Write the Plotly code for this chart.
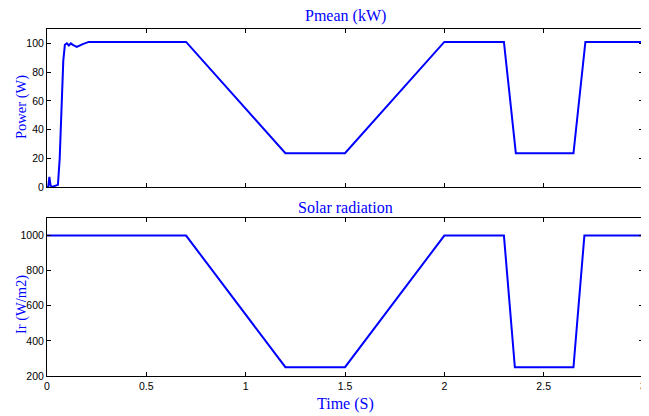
import plotly.graph_objects as go

# ---- data ----
power_time = [0, 0.006, 0.012, 0.018, 0.024, 0.04, 0.055, 0.064, 0.073, 0.082, 0.09,
              0.1, 0.11, 0.12, 0.13, 0.15, 0.18, 0.21, 0.7, 1.2, 1.5, 2.0,
              2.3, 2.36, 2.65, 2.71, 3.0]
power_vals = [0, 0, 7, 1, 0, 0.5, 1.5, 20, 60, 88, 99,
              100, 98.5, 100, 99, 97.5, 99.5, 101, 101, 23.5, 23.5, 101,
              101, 23.5, 23.5, 101, 101]

irr_time = [0, 0.7, 1.2, 1.5, 2.0, 2.3, 2.355, 2.65, 2.705, 3.0]
irr_vals = [1000, 1000, 250, 250, 1000, 1000, 250, 250, 1000, 1000]

x_ticks = [0, 0.5, 1, 1.5, 2, 2.5, 3]
x_tick_labels = ["0", "0.5", "1", "1.5", "2", "2.5", "3"]
p_ticks = [0, 20, 40, 60, 80, 100]
ir_ticks = [200, 400, 600, 800, 1000]

titles = ["Pmean (kW)", "Solar radiation"]
y_titles = ["Power (W)", "Ir (W/m2)"]
x_title = "Time (S)"

# page body has an 8px default margin; size the figure so it fills the window
OFF = 8
WIN_W, WIN_H = 649, 416
W, H = WIN_W - OFF, WIN_H - OFF
L, R = 47 - OFF, WIN_W - 643
BLUE = "#0000ff"
serif = "Liberation Serif, Times New Roman, serif"
sans = "Liberation Sans, Arial, sans-serif"


def py(y_win):
    return 1 - (y_win - OFF) / H


def px(x_win):
    return (x_win - OFF - L) / (W - L - R)


fig = go.Figure()
fig.add_trace(go.Scatter(x=power_time, y=power_vals, mode="lines",
                         line=dict(color=BLUE, width=2), xaxis="x", yaxis="y",
                         showlegend=False))
fig.add_trace(go.Scatter(x=irr_time, y=irr_vals, mode="lines",
                         line=dict(color=BLUE, width=2), xaxis="x2", yaxis="y2",
                         showlegend=False))

top_dom = [py(187), py(29)]
bot_dom = [py(376), py(218)]

common_axis = dict(showline=True, linecolor="black", linewidth=1, mirror="ticks",
                   ticks="inside", ticklen=4, tickcolor="black", showgrid=False,
                   zeroline=False, automargin=False,
                   tickfont=dict(family=sans, size=10.5, color="black"))

fig.update_layout(
    width=W, height=H,
    margin=dict(l=L, r=R, t=0, b=0, autoexpand=False),
    paper_bgcolor="white", plot_bgcolor="white",
    xaxis=dict(domain=[0, 1], range=[0, 3], anchor="y", tickvals=x_ticks,
               showticklabels=False, **common_axis),
    yaxis=dict(domain=top_dom, range=[0, 110], anchor="x", tickvals=p_ticks, **common_axis),
    xaxis2=dict(domain=[0, 1], range=[0, 3], anchor="y2", tickvals=x_ticks,
                ticktext=x_tick_labels, **common_axis),
    yaxis2=dict(domain=bot_dom, range=[200, 1100], anchor="x2", tickvals=ir_ticks, **common_axis),
)

ann_font = dict(family=serif, size=16, color=BLUE)
ytitle_font = dict(family=serif, size=14.5, color=BLUE)
fig.add_annotation(text=titles[0], xref="paper", yref="paper", x=0.5, y=py(16),
                   showarrow=False, font=ann_font, xanchor="center", yanchor="middle")
fig.add_annotation(text=titles[1], xref="paper", yref="paper", x=0.5, y=py(207),
                   showarrow=False, font=ann_font, xanchor="center", yanchor="middle")
fig.add_annotation(text=x_title, xref="paper", yref="paper", x=0.5, y=py(404),
                   showarrow=False, font=ann_font, xanchor="center", yanchor="middle")
fig.add_annotation(text=y_titles[0], xref="paper", yref="paper", x=px(21),
                   y=py(107), showarrow=False, font=ytitle_font, textangle=-90,
                   xanchor="center", yanchor="middle")
fig.add_annotation(text=y_titles[1], xref="paper", yref="paper", x=px(21),
                   y=py(305), showarrow=False, font=ytitle_font, textangle=-90,
                   xanchor="center", yanchor="middle")

fig.write_html("out.html")
